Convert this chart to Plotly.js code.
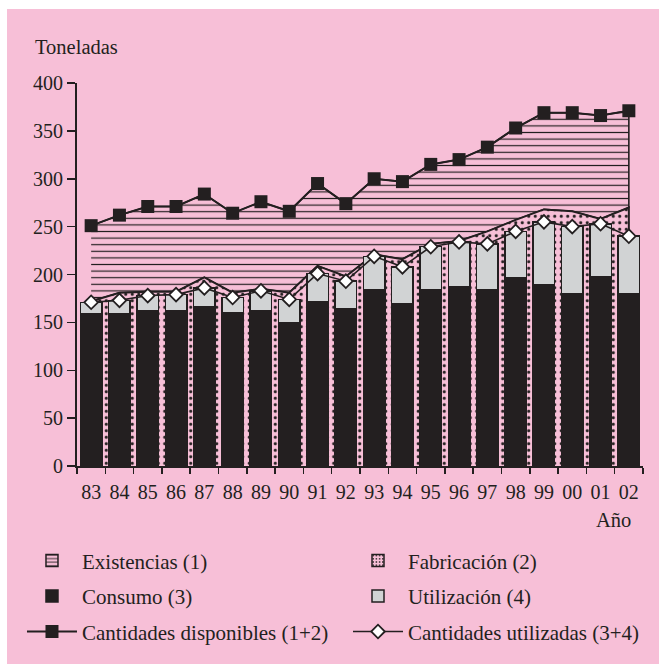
<!DOCTYPE html>
<html>
<head>
<meta charset="utf-8">
<script src="https://cdn.plot.ly/plotly-3.0.1.min.js"></script>
<style>
  html, body { margin: 0; padding: 0; background: #ffffff; }
  #chart { position: absolute; left: 7px; top: 9px; width: 652px; height: 655px; }
</style>
</head>
<body>
<div id="chart"></div>
<script>
// ---- data (toneladas) ----
const years = ['83','84','85','86','87','88','89','90','91','92','93','94','95','96','97','98','99','00','01','02'];
const disponibles = [251, 262, 271, 271, 284, 264, 276, 266, 295, 274, 300, 297, 315, 320, 333, 353, 369, 369, 366, 371];
const limiteFabricacion = [172, 181, 182, 182, 197, 181, 185, 181, 209, 198, 221, 216, 232, 235, 245, 257, 268, 266, 258, 270];
const consumo = [159, 159, 162, 162, 166, 160, 162, 150, 172, 164, 184, 169, 184, 187, 184, 197, 189, 180, 198, 180];
const utilizacion = [12, 14, 16, 17, 20, 16, 21, 24, 29, 29, 35, 39, 45, 47, 48, 48, 66, 70, 55, 60];
const utilizadas = [171, 173, 178, 179, 186, 176, 183, 174, 201, 193, 219, 208, 229, 234, 232, 245, 255, 250, 253, 240];

const PINK = '#F7BFD7';
const INK = '#231F20';
const GRAY = '#D1D3D4';
const FONT = 'Liberation Serif, Times New Roman, serif';

const linesPattern = {shape: '-', bgcolor: PINK, fgcolor: INK, size: 6.6, solidity: 0.18};
const dotsPattern = {shape: '.', bgcolor: PINK, fgcolor: INK, size: 6.5, solidity: 0.18};

const first = years[0], last = years[years.length - 1];

const traces = [
  // Existencias area (between fabricación boundary and disponibles)
  {
    type: 'scatter', mode: 'lines', xaxis: 'x', yaxis: 'y',
    x: years.concat(years.slice().reverse()),
    y: disponibles.concat(limiteFabricacion.slice().reverse()),
    fill: 'toself', fillcolor: PINK, fillpattern: linesPattern,
    line: {color: INK, width: 1.6}, showlegend: false, hoverinfo: 'skip'
  },
  // Fabricación area (from zero to boundary)
  {
    type: 'scatter', mode: 'lines', xaxis: 'x', yaxis: 'y',
    x: [first].concat(years, [last]),
    y: [0].concat(limiteFabricacion, [0]),
    fill: 'toself', fillcolor: PINK, fillpattern: dotsPattern,
    line: {color: INK, width: 2}, showlegend: false, hoverinfo: 'skip'
  },
  // legend-only swatches for the two areas
  {
    type: 'bar', xaxis: 'x2', yaxis: 'y2', x: [first], y: [null],
    name: 'Existencias (1)', legend: 'legend',
    marker: {color: PINK, pattern: {shape: '-', bgcolor: PINK, fgcolor: INK, size: 4.5, solidity: 0.25}, line: {color: INK, width: 1.5}}
  },
  {
    type: 'bar', xaxis: 'x2', yaxis: 'y2', x: [first], y: [null],
    name: 'Fabricación (2)', legend: 'legend2',
    marker: {color: PINK, pattern: {shape: '.', bgcolor: PINK, fgcolor: INK, size: 4, solidity: 0.22}, line: {color: INK, width: 1.5}}
  },
  // stacked bars
  {
    type: 'bar', xaxis: 'x2', yaxis: 'y2', x: years, y: consumo,
    name: 'Consumo (3)', legend: 'legend3',
    marker: {color: INK, line: {color: INK, width: 1.5}}
  },
  {
    type: 'bar', xaxis: 'x2', yaxis: 'y2', x: years, y: utilizacion,
    name: 'Utilización (4)', legend: 'legend4',
    marker: {color: GRAY, line: {color: INK, width: 1.5}}
  },
  // lines
  {
    type: 'scatter', mode: 'lines+markers', xaxis: 'x3', yaxis: 'y3',
    x: years, y: disponibles, name: 'Cantidades disponibles (1+2)', legend: 'legend5',
    line: {color: INK, width: 2},
    marker: {symbol: 'square', size: 13, color: INK, line: {color: INK, width: 0}}
  },
  {
    type: 'scatter', mode: 'lines+markers', xaxis: 'x3', yaxis: 'y3',
    x: years, y: utilizadas, name: 'Cantidades utilizadas (3+4)', legend: 'legend6',
    line: {color: INK, width: 1.6},
    marker: {symbol: 'diamond', size: 10.5, color: '#ffffff', line: {color: INK, width: 1.8}}
  }
];

const xRange = [-0.5, years.length - 0.5];
const hiddenX = {type: 'category', categoryorder: 'array', categoryarray: years, range: xRange, visible: false, fixedrange: true};
const hiddenY = {range: [0, 400], visible: false, fixedrange: true};

function legendAt(x, y) {
  return {
    x: x, y: y, xanchor: 'left', yanchor: 'middle', orientation: 'v',
    bgcolor: 'rgba(0,0,0,0)', borderwidth: 0, itemwidth: 50,
    font: {family: FONT, size: 21, color: INK}, itemclick: false, itemdoubleclick: false
  };
}

const layout = {
  width: 652, height: 655,
  margin: {l: 70, r: 16, t: 74, b: 193, pad: 0},
  paper_bgcolor: PINK, plot_bgcolor: 'rgba(0,0,0,0)',
  font: {family: FONT, size: 20, color: INK},
  barmode: 'stack', bargap: 0.24,
  xaxis: {
    type: 'category', categoryorder: 'array', categoryarray: years, range: xRange,
    showline: true, linecolor: INK, linewidth: 2, tickangle: 0, automargin: false,
    ticks: 'outside', ticklen: 6, tickwidth: 1.5, tickcolor: INK, tickson: 'boundaries',
    ticklabelstandoff: 7,
    showgrid: false, zeroline: false, tickfont: {family: FONT, size: 20, color: INK}, fixedrange: true
  },
  yaxis: {
    range: [0, 400], dtick: 50, tick0: 0, automargin: false,
    showline: true, linecolor: INK, linewidth: 2,
    ticks: 'outside', ticklen: 8, tickwidth: 1.5, tickcolor: INK,
    showgrid: false, zeroline: false, tickfont: {family: FONT, size: 20, color: INK}, fixedrange: true
  },
  xaxis2: Object.assign({overlaying: 'x', anchor: 'y2'}, hiddenX),
  yaxis2: Object.assign({overlaying: 'y', anchor: 'x2'}, hiddenY),
  xaxis3: Object.assign({overlaying: 'x', anchor: 'y3'}, hiddenX),
  yaxis3: Object.assign({overlaying: 'y', anchor: 'x3'}, hiddenY),
  legend: legendAt(-0.0972, -0.2474),
  legend2: legendAt(0.4788, -0.2474),
  legend3: legendAt(-0.0972, -0.3402),
  legend4: legendAt(0.4788, -0.3402),
  legend5: legendAt(-0.0972, -0.4330),
  legend6: legendAt(0.4788, -0.4330),
  annotations: [
    {text: 'Toneladas', xref: 'paper', yref: 'paper', x: -0.0777, y: 1.093, xanchor: 'left', yanchor: 'middle',
     showarrow: false, font: {family: FONT, size: 20.5, color: INK}},
    {text: 'Año', xref: 'paper', yref: 'paper', x: 0.982, y: -0.142, xanchor: 'right', yanchor: 'middle',
     showarrow: false, font: {family: FONT, size: 20.5, color: INK}}
  ],
  showlegend: true
};

Plotly.newPlot('chart', traces, layout, {staticPlot: true, displayModeBar: false});
</script>
</body>
</html>
